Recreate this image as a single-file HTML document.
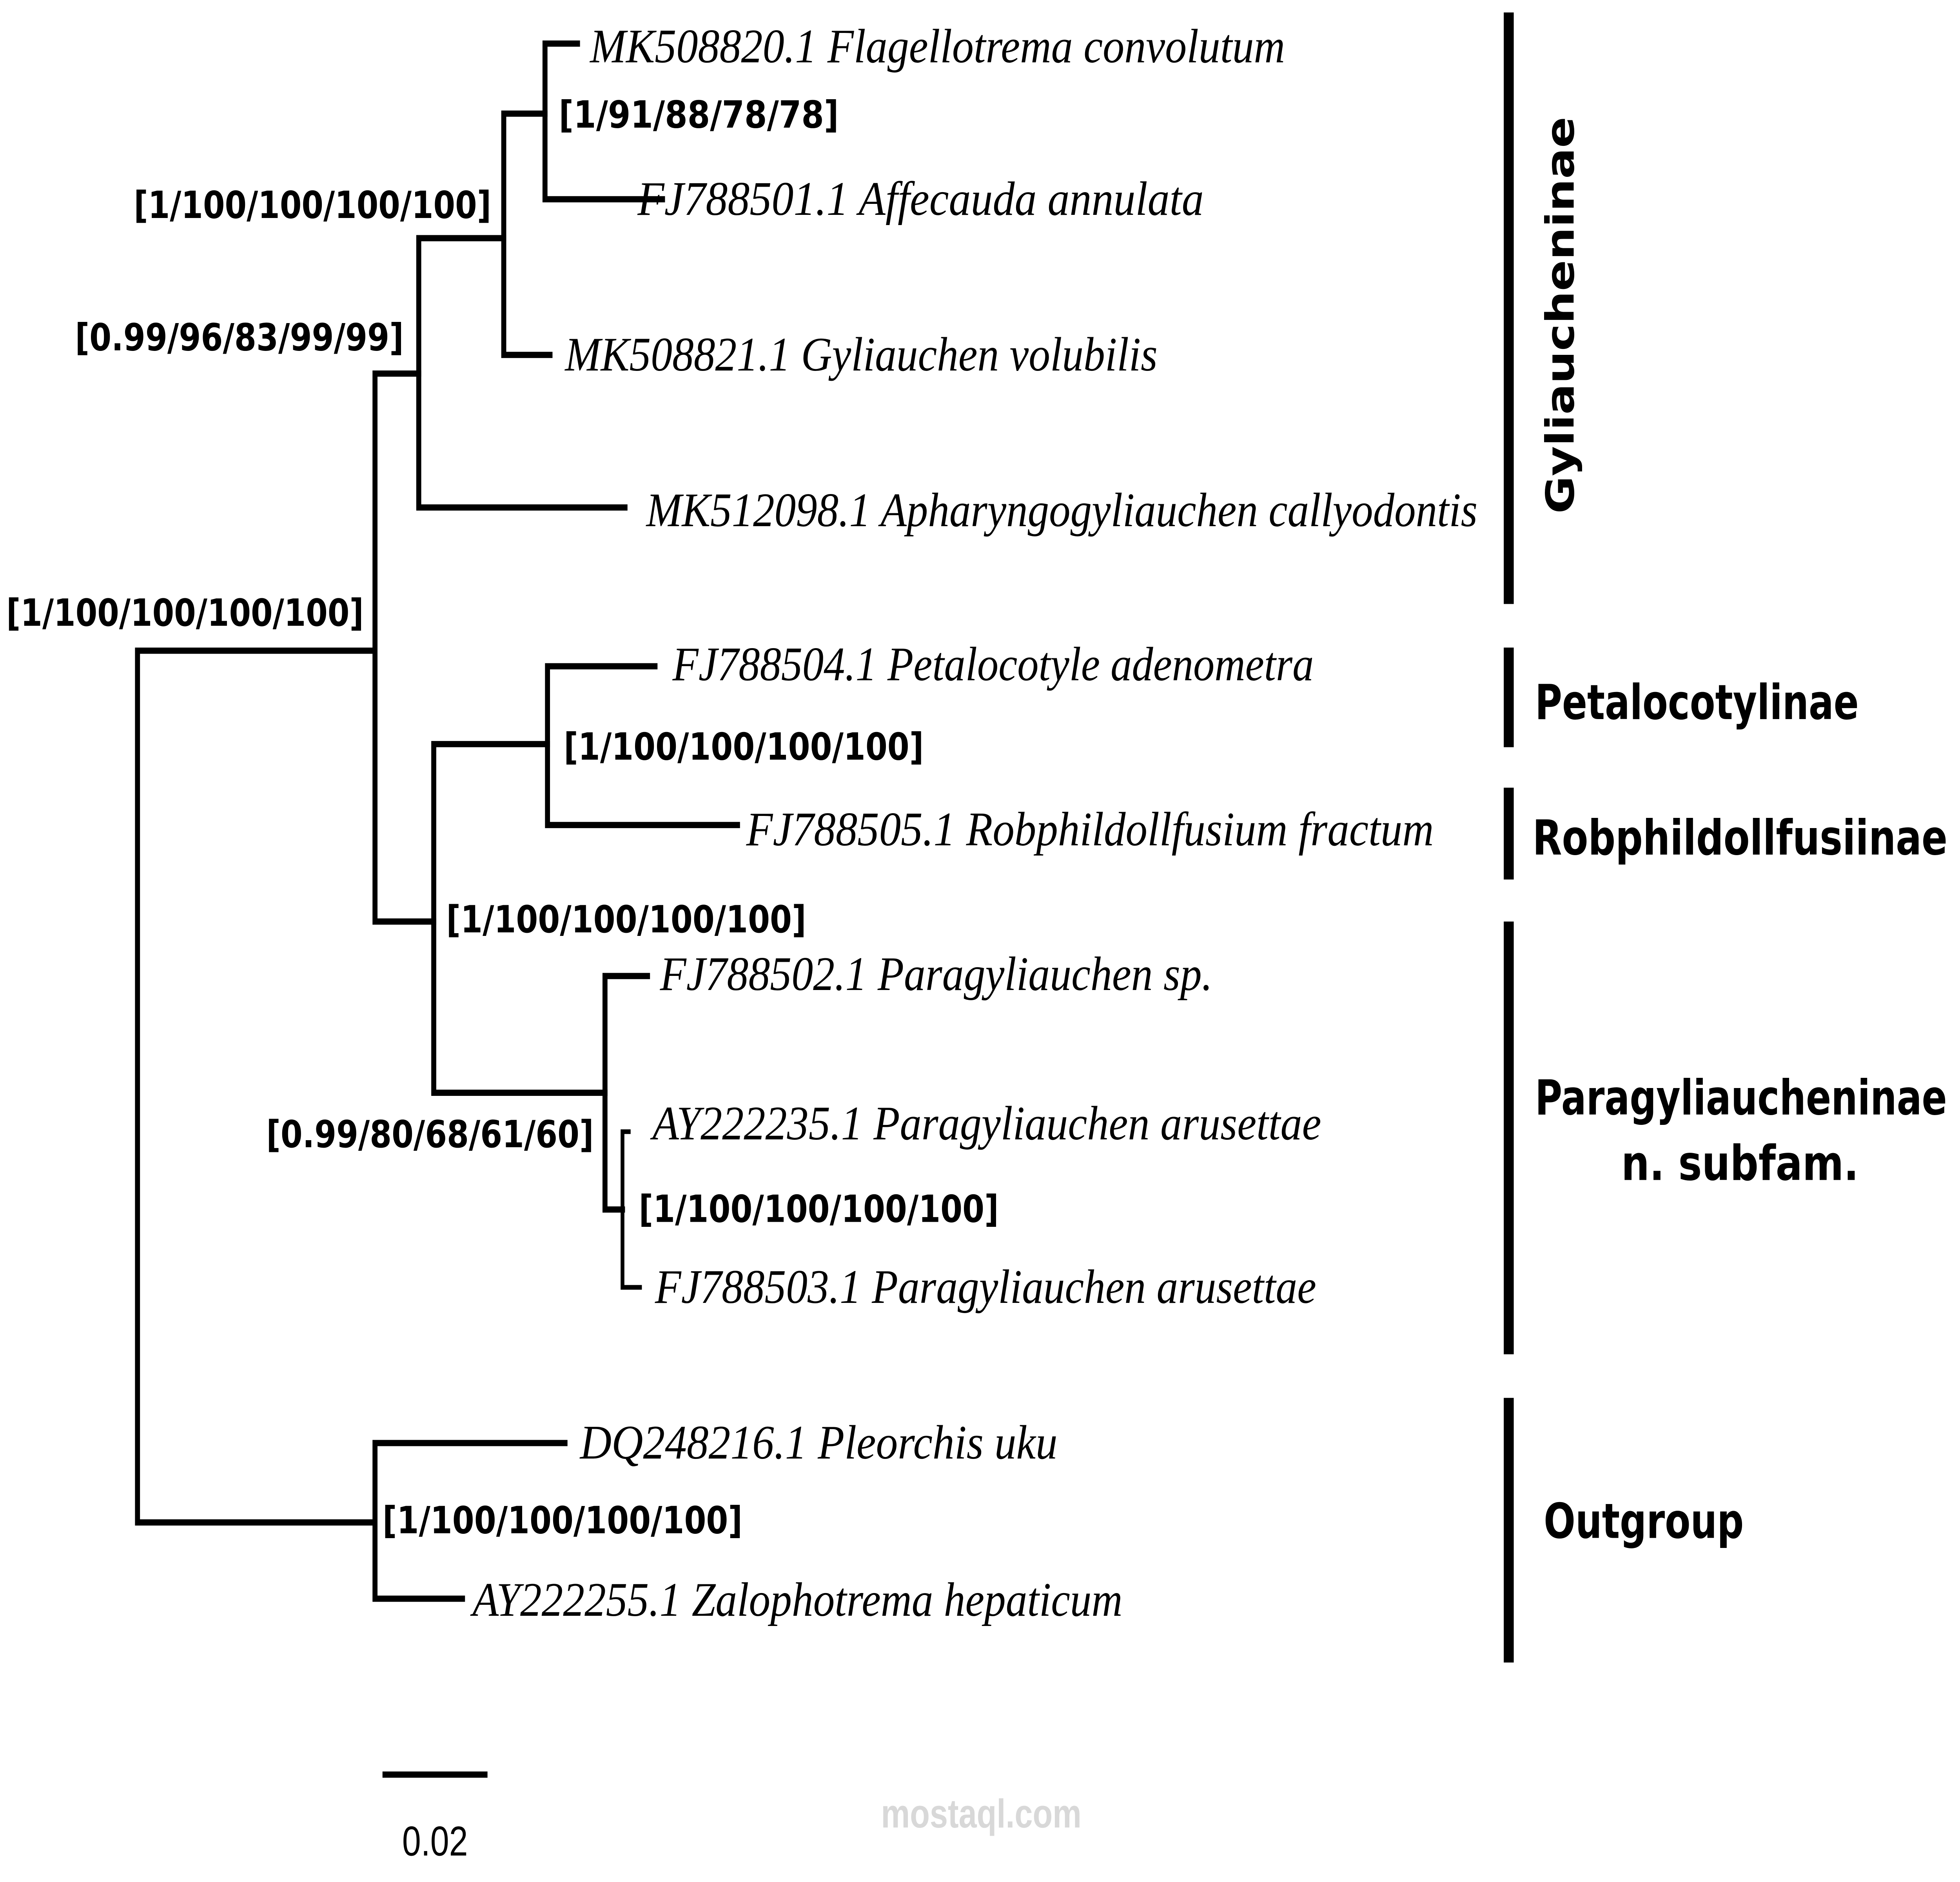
<!DOCTYPE html>
<html><head><meta charset="utf-8"><style>
html,body{margin:0;padding:0;background:#fff;overflow:hidden;width:100%;height:100%;}
svg{display:block;width:100vw;height:100vh;}
.t{font-family:"Liberation Serif",serif;font-style:italic;font-size:31px;fill:#000;}
.b{font-family:"DejaVu Sans","Liberation Sans",sans-serif;font-weight:bold;font-size:24px;fill:#000;}
.c{font-family:"DejaVu Sans","Liberation Sans",sans-serif;font-weight:bold;font-size:31px;fill:#000;}
</style></head><body>
<svg viewBox="0 0 1568 1209" preserveAspectRatio="none" xmlns="http://www.w3.org/2000/svg">
<g stroke="#000" stroke-width="4" fill="none" stroke-linecap="square">
<path d="M110 418V978M110 418H300M110 978H300"/>
<path d="M300 240V592M300 240H335M300 592H347"/>
<path d="M335 153V326M335 153H403M335 326H500"/>
<path d="M403 73V228M403 73H436M403 228H440"/>
<path d="M436 28V128M436 28H462M436 128H530"/>
<path d="M347 478V702M347 478H438M347 702H484"/>
<path d="M438 428V530M438 428H524M438 530H590"/>
<path d="M484 627V777M484 627H518M484 777H498"/>
<path d="M498 727V827M498 727H503M498 827H512" stroke-width="3"/>
<path d="M300 927V1027M300 927H452M300 1027H370"/>
<path d="M308 1140H388"/>
</g>
<g fill="#000">
<rect x="1203" y="8" width="8" height="380"/>
<rect x="1203" y="416" width="8" height="64"/>
<rect x="1203" y="506" width="8" height="59"/>
<rect x="1203" y="592" width="8" height="278"/>
<rect x="1203" y="898" width="8" height="170"/>
</g>
<text class="t" x="472" y="40" textLength="556" lengthAdjust="spacingAndGlyphs">MK508820.1  Flagellotrema  convolutum</text>
<text class="t" x="510" y="138" textLength="453" lengthAdjust="spacingAndGlyphs">FJ788501.1  Affecauda  annulata</text>
<text class="t" x="452" y="238" textLength="474" lengthAdjust="spacingAndGlyphs">MK508821.1  Gyliauchen  volubilis</text>
<text class="t" x="517" y="338" textLength="665" lengthAdjust="spacingAndGlyphs">MK512098.1  Apharyngogyliauchen  callyodontis</text>
<text class="t" x="538" y="437" textLength="513" lengthAdjust="spacingAndGlyphs">FJ788504.1  Petalocotyle  adenometra</text>
<text class="t" x="597" y="543" textLength="550" lengthAdjust="spacingAndGlyphs">FJ788505.1  Robphildollfusium  fractum</text>
<text class="t" x="528" y="636" textLength="442" lengthAdjust="spacingAndGlyphs">FJ788502.1  Paragyliauchen  sp.</text>
<text class="t" x="522" y="732" textLength="535" lengthAdjust="spacingAndGlyphs">AY222235.1  Paragyliauchen  arusettae</text>
<text class="t" x="524" y="837" textLength="529" lengthAdjust="spacingAndGlyphs">FJ788503.1  Paragyliauchen  arusettae</text>
<text class="t" x="464" y="937" textLength="382" lengthAdjust="spacingAndGlyphs">DQ248216.1  Pleorchis  uku</text>
<text class="t" x="378" y="1038" textLength="520" lengthAdjust="spacingAndGlyphs">AY222255.1  Zalophotrema  hepaticum</text>
<text class="b" x="447" y="82" textLength="224" lengthAdjust="spacingAndGlyphs">[1/91/88/78/78]</text>
<text class="b" x="107" y="140" textLength="286" lengthAdjust="spacingAndGlyphs">[1/100/100/100/100]</text>
<text class="b" x="60" y="225" textLength="263" lengthAdjust="spacingAndGlyphs">[0.99/96/83/99/99]</text>
<text class="b" x="5" y="402" textLength="286" lengthAdjust="spacingAndGlyphs">[1/100/100/100/100]</text>
<text class="b" x="451" y="488" textLength="288" lengthAdjust="spacingAndGlyphs">[1/100/100/100/100]</text>
<text class="b" x="357" y="599" textLength="288" lengthAdjust="spacingAndGlyphs">[1/100/100/100/100]</text>
<text class="b" x="213" y="737" textLength="262" lengthAdjust="spacingAndGlyphs">[0.99/80/68/61/60]</text>
<text class="b" x="511" y="785" textLength="288" lengthAdjust="spacingAndGlyphs">[1/100/100/100/100]</text>
<text class="b" x="306" y="985" textLength="288" lengthAdjust="spacingAndGlyphs">[1/100/100/100/100]</text>
<text class="c" transform="translate(1259 330) rotate(-90)" textLength="255" lengthAdjust="spacingAndGlyphs">Gyliaucheninae</text>
<text class="c" x="1228" y="462" textLength="259" lengthAdjust="spacingAndGlyphs">Petalocotylinae</text>
<text class="c" transform="translate(1226 549) scale(0.8 1)" x="0" y="0" textLength="415" lengthAdjust="spacingAndGlyphs">Robphildollfusiinae</text>
<text class="c" transform="translate(1228 716) scale(0.8 1)" x="0" y="0" textLength="412" lengthAdjust="spacingAndGlyphs">Paragyliaucheninae</text>
<text class="c" x="1297" y="758" textLength="190" lengthAdjust="spacingAndGlyphs">n. subfam.</text>
<text class="c" x="1235" y="988" textLength="160" lengthAdjust="spacingAndGlyphs">Outgroup</text>
<text x="348" y="1192" text-anchor="middle" font-family="Liberation Sans Narrow,Liberation Sans,sans-serif" font-size="27" fill="#000">0.02</text>
<text x="785" y="1174" text-anchor="middle" font-family="Liberation Sans,sans-serif" font-weight="bold" font-size="26" fill="#d8d8d8">mostaql.com</text>
</svg>
</body></html>
